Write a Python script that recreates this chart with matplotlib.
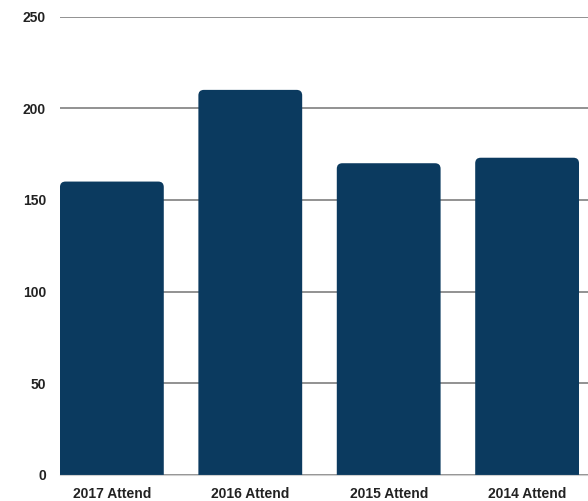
import matplotlib
matplotlib.use('Agg')
import matplotlib.pyplot as plt
from matplotlib.patches import FancyBboxPatch

categories = ['2017 Attend', '2016 Attend', '2015 Attend', '2014 Attend']
attendance = [160, 210, 170, 173]
yticks = [0, 50, 100, 150, 200, 250]

plt.rcParams['font.family'] = ['Liberation Sans', 'DejaVu Sans']

fig = plt.figure(figsize=(5.88, 5.01), dpi=100)
ax = fig.add_axes([0.102, 0.052, 0.898, 0.915])

x = list(range(len(categories)))
bars = ax.bar(x, attendance, width=0.75, color='#0b3a5f', zorder=3)

# swap plain bars for ones with rounded tops
xlim = (-0.375, 3.44)
ylim = (0, 250)
ax.set_xlim(*xlim)
ax.set_ylim(*ylim)
bbox = ax.get_position()
w_px = bbox.width * fig.get_figwidth() * fig.dpi
h_px = bbox.height * fig.get_figheight() * fig.dpi
aspect = ((ylim[1] - ylim[0]) / h_px) / ((xlim[1] - xlim[0]) / w_px)
for b in bars:
    b.set_visible(False)
    p = FancyBboxPatch((b.get_x(), -10), b.get_width(), b.get_height() + 10,
                       boxstyle='round,pad=0,rounding_size=0.04',
                       mutation_aspect=aspect, facecolor='#0b3a5f',
                       edgecolor='none', zorder=3)
    ax.add_patch(p)

ax.set_yticks(yticks)
ax.set_xticks(x)
ax.set_xticklabels(categories)
ax.yaxis.grid(True, color='#929292', linewidth=1.4, zorder=0)
ax.tick_params(length=0)
ax.tick_params(axis='y', pad=10)
ax.tick_params(axis='x', pad=9)
for lab in ax.get_xticklabels() + ax.get_yticklabels():
    lab.set_fontsize(10)
    lab.set_fontweight('bold')
    lab.set_color('#222222')

for s in ['top', 'right', 'left']:
    ax.spines[s].set_visible(False)
ax.spines['bottom'].set_color('#d0d0d0')
ax.spines['bottom'].set_zorder(4)

fig.savefig('out.png', dpi=100)
